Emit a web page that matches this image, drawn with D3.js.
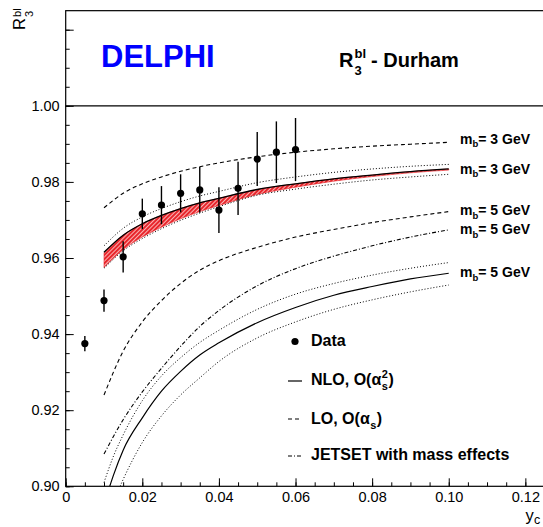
<!DOCTYPE html>
<html><head><meta charset="utf-8">
<script src="https://cdn.jsdelivr.net/npm/d3@7"></script>
<style>body{margin:0;background:#fff}svg{display:block}text{font-family:"Liberation Sans",Arial,sans-serif}</style>
</head><body><svg id="c" width="543" height="527"></svg>
<script>
// ---- data ----
const dataX   = [0.005, 0.010, 0.015, 0.020, 0.025, 0.030, 0.035, 0.040, 0.045, 0.050, 0.055, 0.060];
const dataY   = [0.9375,0.9488,0.9603,0.9716,0.9739,0.9770,0.9779,0.9726,0.9783,0.9860,0.9878,0.9885];
const dataErr = [0.0020,0.0029,0.0041,0.0040,0.0050,0.0050,0.0060,0.0060,0.0070,0.0071,0.0081,0.0083];

const yc = [0.010,0.015,0.020,0.025,0.030,0.035,0.040,0.050,0.060,0.070,0.080,0.090,0.100];
const lo3    = [0.9732,0.9770,0.9795,0.9813,0.9828,0.9840,0.9850,0.9866,0.9878,0.9887,0.9894,0.9899,0.9904];
const nlo3   = [0.9615,0.9660,0.9690,0.9712,0.9730,0.9745,0.9757,0.9780,0.9795,0.9808,0.9818,0.9827,0.9834];
const band3Lo= [0.9575,0.9622,0.9655,0.9681,0.9703,0.9722,0.9738,0.9767,0.9786,0.9802,0.9814,0.9824,0.9831];
const nlo3Up = [0.9632,0.9678,0.9708,0.9730,0.9748,0.9763,0.9775,0.9798,0.9813,0.9825,0.9834,0.9841,0.9846];
const nlo3Dn = [0.9573,0.9619,0.9651,0.9677,0.9699,0.9718,0.9735,0.9765,0.9781,0.9794,0.9805,0.9813,0.9820];
const lo5    = [0.9240,0.9355,0.9432,0.9488,0.9533,0.9568,0.9593,0.9628,0.9655,0.9675,0.9693,0.9708,0.9722];
const jet5   = [0.9085,0.9175,0.9248,0.9310,0.9368,0.9420,0.9462,0.9527,0.9572,0.9605,0.9632,0.9655,0.9674];
const nlo5X  = [0.0115,0.0125,0.015,0.020,0.025,0.030,0.035,0.040,0.050,0.060,0.070,0.080,0.090,0.100];
const nlo5   = [0.9000,0.9030,0.9095,0.9180,0.9250,0.9302,0.9345,0.9377,0.9430,0.9470,0.9502,0.9525,0.9545,0.9560];
const nlo5UpX= [0.010,0.0125,0.015,0.020,0.025,0.030,0.035,0.040,0.050,0.060,0.070,0.080,0.090,0.100];
const nlo5Up = [0.9010,0.9080,0.9135,0.9225,0.9290,0.9338,0.9378,0.9410,0.9465,0.9505,0.9533,0.9555,0.9573,0.9588];
const nlo5DnX= [0.0142,0.015,0.020,0.025,0.030,0.035,0.040,0.050,0.060,0.070,0.080,0.090,0.100];
const nlo5Dn = [0.9000,0.9018,0.9115,0.9185,0.9240,0.9285,0.9328,0.9390,0.9432,0.9465,0.9490,0.9511,0.9529];

const xTicks = [0,0.02,0.04,0.06,0.08,0.10,0.12];
const xTickLabels = ["0","0.02","0.04","0.06","0.08","0.10","0.12"];
const yTicks = [0.90,0.92,0.94,0.96,0.98,1.00,1.02];
const yTickLabels = ["0.90","0.92","0.94","0.96","0.98","1.00",""];
const curveLabels = ["3 GeV","3 GeV","5 GeV","5 GeV","5 GeV"];
const legendLabels = ["Data","NLO, O(α","LO, O(α","JETSET with mass effects"];

// ---- layout ----
const svg = d3.select("#c");
const L=65.7, R=544.5, B=486.3;
const x = d3.scaleLinear().domain([0,0.125]).range([L,R]);
const y = d3.scaleLinear().domain([0.90,1.00]).range([B,105.8]);
const T = y(1.025);

const defs = svg.append("defs");
defs.append("clipPath").attr("id","clip").append("rect")
  .attr("x",L).attr("y",T).attr("width",R-L).attr("height",B-T);
const pat = defs.append("pattern").attr("id","hatch").attr("width",3).attr("height",3)
  .attr("patternUnits","userSpaceOnUse").attr("patternTransform","rotate(45)");
pat.append("rect").attr("width",3).attr("height",3).attr("fill","#e8262c");
pat.append("line").attr("x1",0.5).attr("y1",0).attr("x2",0.5).attr("y2",3).attr("stroke","#ffd6d6").attr("stroke-width",0.8);

// axes
const yAx = svg.append("g").attr("transform",`translate(${L},0)`)
  .call(d3.axisLeft(y).tickValues(yTicks).tickSize(-8).tickPadding(6)
    .tickFormat((d,i)=>yTickLabels[i]));
const yMin = svg.append("g").attr("transform",`translate(${L},0)`)
  .call(d3.axisLeft(y).tickValues(d3.range(0,25).map(i=>0.9+i*0.005)).tickSize(-4).tickFormat(""));
const xAx = svg.append("g").attr("transform",`translate(0,${B})`)
  .call(d3.axisBottom(x).tickValues(xTicks).tickSize(-8).tickPadding(5)
    .tickFormat((d,i)=>xTickLabels[i]));
const xMin = svg.append("g").attr("transform",`translate(0,${B})`)
  .call(d3.axisBottom(x).tickValues(d3.range(0,25).map(i=>i*0.005)).tickSize(-4).tickFormat(""));
[yAx,yMin,xAx,xMin].forEach(g=>{
  g.attr("font-size",null).attr("font-family",null);
  g.select(".domain").remove();
  g.selectAll("line").attr("stroke","#000").attr("stroke-width",1);
  g.selectAll("text").style("font-size","14.5px").style("font-family","'Liberation Sans', Arial, sans-serif").attr("fill","#000");
});

// frame + line at 1.00
svg.append("rect").attr("x",L).attr("y",T).attr("width",R-L).attr("height",B-T)
  .attr("fill","none").attr("stroke","#000").attr("stroke-width",1.2);
svg.append("line").attr("x1",L).attr("x2",R).attr("y1",y(1.0)).attr("y2",y(1.0))
  .attr("stroke","#000").attr("stroke-width",1.2);

const plot = svg.append("g").attr("clip-path","url(#clip)");
const line = d3.line().curve(d3.curveMonotoneX);
function curve(xs, ys, dash, w){
  plot.append("path").attr("d", line(xs.map((v,i)=>[x(v), y(ys[i])])))
    .attr("fill","none").attr("stroke","#000").attr("stroke-width",w||1)
    .attr("stroke-dasharray",dash||null);
}
// band
const area = d3.area().curve(d3.curveMonotoneX).x(d=>d[0]).y0(d=>d[2]).y1(d=>d[1]);
plot.append("path").attr("d", area(yc.map((v,i)=>[x(v), y(nlo3[i]), y(band3Lo[i])])))
  .attr("fill","url(#hatch)").attr("stroke","#e8262c").attr("stroke-width",0.6);

const DASH="4,3", DOT="1,2", DASHDOT="4,2,1,2";
curve(yc, lo3, DASH, 1.1);
curve(yc, nlo3, null, 1.3);
curve(yc, nlo3Up, DOT, 1);
curve(yc, nlo3Dn, DOT, 1);
curve(yc, lo5, DASH, 1.1);
curve(yc, jet5, DASHDOT, 1.1);
curve(nlo5X, nlo5, null, 1.2);
curve(nlo5UpX, nlo5Up, DOT, 1);
curve(nlo5DnX, nlo5Dn, DOT, 1);

// data
const dg = svg.append("g");
dataX.forEach((v,i)=>{
  dg.append("line").attr("x1",x(v)).attr("x2",x(v))
    .attr("y1",y(dataY[i]-dataErr[i])).attr("y2",y(dataY[i]+dataErr[i]))
    .attr("stroke","#000").attr("stroke-width",1.4);
  dg.append("circle").attr("cx",x(v)).attr("cy",y(dataY[i])).attr("r",3.6).attr("fill","#000");
});

// text helpers
function txt(px,py,s,size,weight,fill,parent){
  return (parent||svg).append("text").attr("x",px).attr("y",py).attr("font-size",size)
    .attr("font-weight",weight||"normal").attr("fill",fill||"#000").text(s);
}
const W = el => el.node().getComputedTextLength();

// DELPHI
txt(101,67,"DELPHI",31,"bold","#0000ff");
// R3bl - Durham
{ const r = txt(339,67,"R",20,"bold"); const xr = 339+W(r)+1;
  const s1 = txt(xr,58,"bl",13,"bold"); const s2 = txt(xr,75,"3",13,"bold");
  txt(xr+Math.max(W(s1),W(s2))+5,67,"- Durham",20,"bold"); }

// m_b labels
const mbY = [143.5,173.5,215,234,277];
curveLabels.forEach((s,i)=>{
  const m = txt(460,mbY[i],"m",14,"bold"); const xb = 460+W(m);
  const b = txt(xb,mbY[i]+3.5,"b",9.5,"bold");
  txt(xb+W(b),mbY[i],"= "+s,14,"bold");
});

// legend
const lgX=311, lgY=[346,385,424,460];
svg.append("circle").attr("cx",295).attr("cy",341.5).attr("r",3.6).attr("fill","#000");
[[null,381],[DASH,419],[DASHDOT,456]].forEach(([d,yy])=>{
  svg.append("line").attr("x1",288).attr("x2",302).attr("y1",yy).attr("y2",yy)
    .attr("stroke","#000").attr("stroke-width",1.2).attr("stroke-dasharray",d);
});
txt(lgX,lgY[0],legendLabels[0],16,"bold");
{ const t = txt(lgX,lgY[1],legendLabels[1],16,"bold"); const xa = lgX+W(t)+0.5;
  const a = txt(xa,lgY[1]-7,"2",11,"bold"); const b = txt(xa,lgY[1]+5,"s",11,"bold");
  txt(xa+Math.max(W(a),W(b))+0.5,lgY[1],")",16,"bold"); }
{ const t = txt(lgX,lgY[2],legendLabels[2],16,"bold"); const xa = lgX+W(t)+0.5;
  const b = txt(xa,lgY[2]+5,"s",11,"bold");
  txt(xa+W(b)+0.5,lgY[2],")",16,"bold"); }
txt(lgX,lgY[3],legendLabels[3],16,"bold");

// axis titles
{ const g = svg.append("g").attr("transform","translate(25,30) rotate(-90)");
  const r = txt(0,0,"R",16.5,"normal","#000",g); const xr = W(r)+1.2;
  txt(xr,-4.5,"bl",11,"normal","#000",g); txt(xr,8,"3",11,"normal","#000",g); }
{ const t = txt(525.5,521,"y",16.5,"normal"); txt(525.5+W(t)+0.3,524,"c",12.5,"normal"); }
</script></body></html>
